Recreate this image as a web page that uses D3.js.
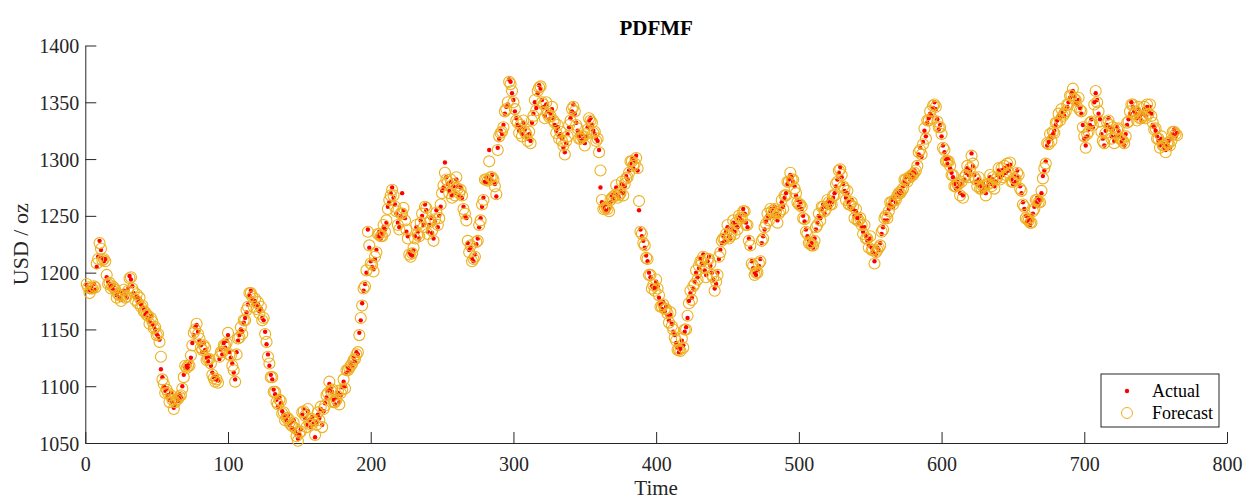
<!DOCTYPE html>
<html>
<head>
<meta charset="utf-8">
<script src="https://cdn.jsdelivr.net/npm/d3@7/dist/d3.min.js"></script>
<style>
  body { margin: 0; background: #ffffff; }
  text { font-family: "Liberation Serif", "Times New Roman", serif; fill: #262626; }
</style>
</head>
<body>
<div id="chart"></div>
<script>
// Actual price, one value per time step (t = 1..765)
const actual = [
  1189, 1185, 1183, 1187, 1184, 1190, 1185, 1205, 1214, 1228,
  1220, 1213, 1210, 1212, 1196, 1192, 1190, 1188, 1186, 1189,
  1184, 1180, 1183, 1178, 1176, 1182, 1184, 1180, 1178, 1186,
  1197, 1194, 1188, 1182, 1178, 1179, 1174, 1177, 1172, 1170,
  1168, 1163, 1165, 1160, 1157, 1162, 1155, 1153, 1150, 1146,
  1144, 1141, 1115, 1108, 1100, 1096, 1098, 1092, 1088, 1094,
  1086, 1081, 1084, 1090, 1087, 1093, 1090, 1100, 1110, 1116,
  1118, 1116, 1120, 1125, 1138, 1145, 1152, 1154, 1148, 1140,
  1136, 1130, 1138, 1132, 1125, 1122, 1126, 1118, 1112, 1108,
  1106, 1108, 1105, 1124, 1132, 1128, 1138, 1134, 1140, 1145,
  1130, 1125, 1120, 1112, 1106, 1130, 1140, 1145, 1150, 1148,
  1156, 1160, 1165, 1172, 1180, 1184, 1177, 1172, 1175, 1170,
  1172, 1166, 1168, 1160, 1158, 1148, 1137, 1128, 1118, 1110,
  1106, 1097, 1093, 1088, 1082, 1090, 1085, 1078, 1075, 1072,
  1070, 1074, 1066, 1068, 1063, 1070, 1061, 1058, 1054, 1057,
  1062, 1075, 1080, 1072, 1066, 1078, 1070, 1064, 1073, 1067,
  1055, 1068, 1075, 1072, 1080, 1066, 1078, 1085, 1090, 1096,
  1102, 1098, 1095, 1088, 1084, 1090, 1094, 1086, 1092, 1099,
  1104, 1100, 1112, 1116, 1114, 1120, 1118, 1125, 1122, 1130,
  1128, 1147, 1158, 1173, 1184, 1190, 1200, 1238, 1222, 1210,
  1205, 1203, 1212, 1220, 1232, 1236, 1230, 1234, 1240, 1238,
  1244, 1258, 1262, 1270, 1275, 1266, 1260, 1252, 1244, 1240,
  1250, 1270, 1255, 1248, 1236, 1232, 1218, 1216, 1215, 1220,
  1232, 1240, 1236, 1230, 1246, 1250, 1242, 1260, 1255, 1236,
  1242, 1248, 1235, 1230, 1245, 1255, 1240, 1250, 1258, 1272,
  1275, 1297, 1284, 1278, 1272, 1280, 1268, 1276, 1270, 1282,
  1276, 1268, 1275, 1266, 1258, 1250, 1248, 1226, 1220, 1222,
  1212, 1210, 1216, 1225, 1230, 1240, 1248, 1258, 1266, 1280,
  1284, 1279, 1308, 1282, 1286, 1280, 1278, 1267, 1310, 1318,
  1325, 1322, 1330, 1340, 1346, 1348, 1370, 1368, 1358, 1352,
  1342, 1336, 1330, 1325, 1328, 1322, 1332, 1326, 1320, 1318,
  1322, 1316, 1332, 1340, 1350, 1345, 1358, 1365, 1362, 1352,
  1346, 1338, 1348, 1342, 1335, 1340, 1344, 1336, 1330, 1325,
  1328, 1320, 1322, 1318, 1310, 1306, 1314, 1322, 1328, 1336,
  1342, 1348, 1340, 1332, 1325, 1320, 1316, 1322, 1318, 1314,
  1320, 1328, 1334, 1336, 1330, 1325, 1322, 1318, 1316, 1308,
  1275, 1262, 1258, 1255, 1260, 1254, 1256, 1262, 1268, 1265,
  1270, 1275, 1268, 1266, 1272, 1278, 1270, 1276, 1285, 1282,
  1290, 1296, 1300, 1292, 1298, 1303, 1290, 1255, 1238, 1232,
  1228, 1222, 1215, 1210, 1200, 1196, 1188, 1187, 1186, 1192,
  1188, 1178, 1172, 1168, 1174, 1166, 1170, 1162, 1158, 1163,
  1155, 1148, 1145, 1138, 1134, 1130, 1133, 1140, 1136, 1148,
  1152, 1160, 1175, 1182, 1178, 1186, 1192, 1200, 1196, 1204,
  1212, 1208, 1216, 1202, 1198, 1210, 1214, 1206, 1200, 1194,
  1186, 1190, 1200, 1212, 1220, 1226, 1232, 1228, 1236, 1240,
  1232, 1230, 1238, 1244, 1236, 1242, 1240, 1248, 1250, 1246,
  1256, 1252, 1244, 1240, 1230, 1222, 1210, 1204, 1200, 1198,
  1202, 1206, 1212, 1226, 1232, 1238, 1245, 1250, 1248, 1254,
  1256, 1250, 1258, 1252, 1246, 1250, 1256, 1262, 1258, 1266,
  1270, 1278, 1282, 1286, 1284, 1280, 1276, 1268, 1264, 1258,
  1262, 1256, 1250, 1245, 1238, 1232, 1228, 1224, 1226, 1222,
  1230, 1238, 1244, 1250, 1248, 1256, 1260, 1252, 1258, 1262,
  1264, 1258, 1262, 1266, 1270, 1276, 1282, 1288, 1293, 1284,
  1278, 1272, 1266, 1270, 1262, 1258, 1264, 1256, 1250, 1254,
  1248, 1244, 1250, 1240, 1236, 1240, 1232, 1228, 1224, 1230,
  1222, 1218, 1210, 1216, 1222, 1220, 1226, 1234, 1240, 1246,
  1252, 1246, 1256, 1260, 1264, 1258, 1266, 1262, 1270, 1268,
  1272, 1270, 1276, 1280, 1284, 1278, 1286, 1282, 1288, 1284,
  1290, 1288, 1296, 1304, 1310, 1302, 1315, 1325, 1320, 1332,
  1336, 1340, 1338, 1345, 1350, 1344, 1335, 1326, 1330, 1320,
  1312, 1306, 1300, 1296, 1300, 1292, 1288, 1284, 1278, 1274,
  1280, 1276, 1270, 1278, 1268, 1282, 1288, 1292, 1286, 1290,
  1305, 1294, 1286, 1280, 1278, 1282, 1276, 1272, 1278, 1275,
  1270, 1276, 1280, 1284, 1278, 1282, 1276, 1280, 1286, 1290,
  1284, 1290, 1286, 1292, 1288, 1294, 1290, 1295, 1282, 1278,
  1285, 1280, 1290, 1284, 1276, 1270, 1262, 1256, 1250, 1245,
  1248, 1242, 1246, 1252, 1258, 1262, 1266, 1260, 1264, 1270,
  1285, 1290, 1298, 1312, 1315, 1320, 1318, 1322, 1325, 1330,
  1334, 1338, 1336, 1342, 1340, 1338, 1344, 1346, 1350, 1354,
  1358, 1360, 1355, 1350, 1348, 1352, 1345, 1340, 1330, 1318,
  1312, 1320, 1326, 1330, 1335, 1328, 1350, 1358, 1352, 1340,
  1335, 1322, 1318, 1312, 1325, 1330, 1336, 1328, 1320, 1326,
  1316, 1320, 1328, 1325, 1320, 1315, 1318, 1312, 1322, 1330,
  1335, 1340, 1350, 1346, 1342, 1340, 1336, 1344, 1338, 1334,
  1340, 1344, 1338, 1346, 1342, 1346, 1340, 1330, 1328, 1325,
  1320, 1316, 1312, 1318, 1314, 1310, 1308, 1312, 1316, 1310,
  1318, 1322, 1326, 1320, 1323
];

// Forecast price, same time steps
const forecast = [
  1190, 1187, 1182, 1186, 1186, 1188, 1187, 1208, 1212, 1226,
  1221, 1211, 1212, 1210, 1198, 1190, 1191, 1186, 1188, 1187,
  1185, 1178, 1181, 1180, 1175, 1180, 1185, 1178, 1179, 1184,
  1195, 1196, 1186, 1183, 1176, 1181, 1173, 1178, 1170, 1171,
  1166, 1165, 1163, 1162, 1155, 1160, 1157, 1151, 1152, 1145,
  1146, 1139, 1126, 1106, 1102, 1094, 1097, 1094, 1086, 1092,
  1088, 1080, 1086, 1088, 1089, 1091, 1092, 1098, 1108, 1118,
  1116, 1118, 1118, 1127, 1136, 1147, 1150, 1155, 1146, 1142,
  1134, 1132, 1136, 1134, 1123, 1124, 1124, 1120, 1110, 1107,
  1104, 1106, 1103, 1126, 1130, 1130, 1136, 1136, 1138, 1147,
  1128, 1127, 1118, 1114, 1104, 1128, 1142, 1143, 1152, 1146,
  1158, 1158, 1167, 1170, 1182, 1182, 1179, 1170, 1177, 1168,
  1174, 1164, 1170, 1158, 1160, 1146, 1139, 1126, 1120, 1108,
  1108, 1095, 1095, 1086, 1084, 1088, 1087, 1076, 1077, 1070,
  1072, 1072, 1068, 1066, 1065, 1068, 1063, 1056, 1052, 1059,
  1060, 1077, 1078, 1074, 1064, 1080, 1068, 1066, 1071, 1069,
  1057, 1066, 1077, 1070, 1082, 1064, 1080, 1083, 1092, 1094,
  1104, 1096, 1097, 1086, 1086, 1088, 1096, 1084, 1094, 1097,
  1106, 1098, 1114, 1114, 1116, 1118, 1120, 1123, 1124, 1128,
  1130, 1145, 1160, 1171, 1186, 1188, 1202, 1236, 1224, 1208,
  1207, 1201, 1214, 1218, 1234, 1234, 1232, 1232, 1242, 1236,
  1246, 1256, 1264, 1268, 1273, 1268, 1258, 1254, 1242, 1238,
  1252, 1252, 1257, 1246, 1238, 1230, 1216, 1214, 1217, 1222,
  1230, 1242, 1234, 1232, 1244, 1252, 1240, 1258, 1257, 1234,
  1244, 1246, 1237, 1228, 1247, 1253, 1242, 1248, 1260, 1270,
  1277, 1288, 1282, 1280, 1270, 1282, 1266, 1278, 1268, 1284,
  1274, 1270, 1273, 1268, 1256, 1252, 1246, 1228, 1218, 1224,
  1210, 1212, 1214, 1227, 1228, 1242, 1246, 1260, 1264, 1282,
  1282, 1281, 1298, 1284, 1284, 1282, 1276, 1269, 1308, 1320,
  1323, 1324, 1328, 1342, 1344, 1350, 1368, 1366, 1360, 1350,
  1344, 1334, 1332, 1323, 1330, 1320, 1334, 1324, 1322, 1316,
  1324, 1314, 1334, 1338, 1352, 1343, 1360, 1363, 1364, 1350,
  1348, 1336, 1350, 1340, 1337, 1338, 1346, 1334, 1332, 1323,
  1330, 1318, 1324, 1316, 1312, 1304, 1316, 1320, 1330, 1334,
  1344, 1346, 1342, 1330, 1327, 1318, 1318, 1320, 1320, 1312,
  1322, 1326, 1336, 1334, 1332, 1323, 1324, 1316, 1318, 1306,
  1290, 1264, 1256, 1257, 1258, 1256, 1254, 1264, 1266, 1267,
  1268, 1277, 1266, 1268, 1270, 1280, 1268, 1278, 1283, 1284,
  1288, 1298, 1298, 1294, 1296, 1301, 1292, 1263, 1236, 1234,
  1226, 1224, 1213, 1212, 1198, 1198, 1186, 1189, 1184, 1194,
  1186, 1180, 1170, 1170, 1172, 1168, 1168, 1164, 1156, 1165,
  1153, 1150, 1143, 1140, 1132, 1132, 1131, 1142, 1134, 1150,
  1150, 1162, 1173, 1184, 1176, 1188, 1190, 1202, 1194, 1206,
  1210, 1210, 1214, 1204, 1196, 1212, 1212, 1208, 1198, 1196,
  1184, 1192, 1198, 1214, 1218, 1228, 1230, 1230, 1234, 1242,
  1230, 1232, 1236, 1246, 1234, 1244, 1238, 1250, 1248, 1248,
  1254, 1254, 1242, 1242, 1228, 1224, 1208, 1206, 1198, 1200,
  1200, 1208, 1210, 1228, 1230, 1240, 1243, 1252, 1246, 1256,
  1254, 1252, 1256, 1254, 1244, 1252, 1254, 1264, 1256, 1268,
  1268, 1280, 1280, 1288, 1282, 1282, 1274, 1270, 1262, 1260,
  1260, 1258, 1248, 1247, 1236, 1234, 1226, 1226, 1224, 1224,
  1228, 1240, 1242, 1252, 1246, 1258, 1258, 1254, 1256, 1264,
  1262, 1260, 1260, 1268, 1268, 1278, 1280, 1290, 1291, 1286,
  1276, 1274, 1264, 1272, 1260, 1260, 1262, 1258, 1248, 1256,
  1246, 1246, 1248, 1242, 1234, 1242, 1230, 1230, 1222, 1232,
  1220, 1220, 1208, 1218, 1220, 1222, 1224, 1236, 1238, 1248,
  1250, 1248, 1254, 1262, 1262, 1260, 1264, 1264, 1268, 1270,
  1270, 1272, 1274, 1282, 1282, 1280, 1284, 1284, 1286, 1286,
  1288, 1290, 1294, 1306, 1308, 1304, 1313, 1327, 1318, 1334,
  1334, 1342, 1336, 1347, 1348, 1346, 1333, 1328, 1328, 1322,
  1310, 1308, 1298, 1298, 1298, 1294, 1286, 1286, 1276, 1276,
  1278, 1278, 1268, 1280, 1266, 1284, 1286, 1294, 1284, 1292,
  1303, 1296, 1284, 1282, 1276, 1284, 1274, 1274, 1276, 1277,
  1268, 1278, 1278, 1286, 1276, 1284, 1274, 1282, 1284, 1292,
  1282, 1292, 1284, 1294, 1286, 1296, 1288, 1297, 1280, 1280,
  1283, 1282, 1288, 1286, 1274, 1272, 1260, 1258, 1248, 1247,
  1246, 1244, 1244, 1254, 1256, 1264, 1264, 1262, 1262, 1272,
  1283, 1292, 1296, 1314, 1313, 1322, 1316, 1324, 1323, 1332,
  1332, 1340, 1334, 1344, 1338, 1340, 1342, 1348, 1348, 1356,
  1356, 1362, 1353, 1352, 1346, 1354, 1343, 1342, 1328, 1320,
  1310, 1322, 1324, 1332, 1333, 1330, 1348, 1360, 1350, 1342,
  1333, 1324, 1316, 1314, 1323, 1332, 1334, 1330, 1318, 1328,
  1314, 1322, 1326, 1327, 1318, 1317, 1316, 1314, 1320, 1332,
  1333, 1342, 1348, 1348, 1340, 1342, 1334, 1346, 1336, 1336,
  1338, 1346, 1336, 1348, 1340, 1348, 1338, 1332, 1326, 1327,
  1318, 1318, 1310, 1320, 1312, 1312, 1306, 1314, 1314, 1312,
  1316, 1324, 1324, 1322, 1321
];

const xTicks = [0, 100, 200, 300, 400, 500, 600, 700, 800];
const yTicks = [1050, 1100, 1150, 1200, 1250, 1300, 1350, 1400];
const seriesNames = ["Actual", "Forecast"];

const svgWidth = 1247;
const svgHeight = 500;
const margin = { top: 45.5, right: 20, bottom: 57, left: 85.3 };
const width = svgWidth - margin.left - margin.right;
const height = svgHeight - margin.top - margin.bottom;

const svg = d3
  .select("#chart")
  .append("svg")
  .attr("width", svgWidth)
  .attr("height", svgHeight);

const chart = svg
  .append("g")
  .attr("transform", `translate(${margin.left},${margin.top})`);

// Scales
const x = d3.scaleLinear().domain([0, 800]).range([0, width]);
const y = d3.scaleLinear().domain([1050, 1400]).range([height, 0]);

const data = actual.map((v, i) => ({ t: i + 1, actual: v, forecast: forecast[i] }));

// Axes (ticks point inward, MATLAB style)
const tickLen = 11;
const xAxis = chart
  .append("g")
  .attr("transform", `translate(0,${height})`)
  .call(
    d3.axisBottom(x).tickValues(xTicks).tickFormat(d3.format("d"))
      .tickSizeInner(-tickLen).tickSizeOuter(0).tickPadding(tickLen + 3)
  );
const yAxis = chart
  .append("g")
  .call(
    d3.axisLeft(y).tickValues(yTicks).tickFormat(d3.format("d"))
      .tickSizeInner(-tickLen).tickSizeOuter(0).tickPadding(6)
  );

[xAxis, yAxis].forEach((g) => {
  g.select(".domain").attr("stroke", "#262626").attr("stroke-width", 1);
  g.selectAll(".tick line").attr("stroke", "#262626");
  g.selectAll(".tick text")
    .attr("fill", "#262626")
    .style("font-size", "20px")
    .style("font-family", '"Liberation Serif", serif');
});
yAxis.selectAll(".tick text").attr("dy", "0.35em");

// Actual: small red dots
chart
  .selectAll(".dot-actual")
  .data(data)
  .enter()
  .append("circle")
  .attr("class", "dot-actual")
  .attr("cx", (d) => x(d.t))
  .attr("cy", (d) => y(d.actual))
  .attr("r", 2.2)
  .attr("fill", "#ff0000");

// Forecast: open orange circles
chart
  .selectAll(".dot-forecast")
  .data(data)
  .enter()
  .append("circle")
  .attr("class", "dot-forecast")
  .attr("cx", (d) => x(d.t))
  .attr("cy", (d) => y(d.forecast))
  .attr("r", 5.5)
  .attr("fill", "none")
  .attr("stroke", "#edb120")
  .attr("stroke-width", 1.1);

// Title and axis labels
svg
  .append("text")
  .attr("x", margin.left + width / 2)
  .attr("y", 35)
  .attr("text-anchor", "middle")
  .style("font-size", "21px")
  .style("font-weight", "bold")
  .style("fill", "#000")
  .text("PDFMF");

svg
  .append("text")
  .attr("x", margin.left + width / 2)
  .attr("y", 495)
  .attr("text-anchor", "middle")
  .style("font-size", "21px")
  .text("Time");

svg
  .append("text")
  .attr("transform", `translate(28,${margin.top + height / 2}) rotate(-90)`)
  .attr("text-anchor", "middle")
  .style("font-size", "22px")
  .text("USD / oz");

// Legend
const legend = svg.append("g").attr("transform", "translate(1101,374)");
legend
  .append("rect")
  .attr("width", 118)
  .attr("height", 53)
  .attr("fill", "#fff")
  .attr("stroke", "#262626")
  .attr("stroke-width", 1);
legend
  .append("circle")
  .attr("cx", 26)
  .attr("cy", 17)
  .attr("r", 2.2)
  .attr("fill", "#ff0000");
legend
  .append("circle")
  .attr("cx", 26)
  .attr("cy", 39)
  .attr("r", 5.5)
  .attr("fill", "none")
  .attr("stroke", "#edb120");
legend
  .selectAll(".legend-text")
  .data(seriesNames)
  .enter()
  .append("text")
  .attr("x", 51)
  .attr("y", (d, i) => 23 + i * 22)
  .style("font-size", "18px")
  .style("fill", "#000")
  .text((d) => d);
</script>
</body>
</html>
